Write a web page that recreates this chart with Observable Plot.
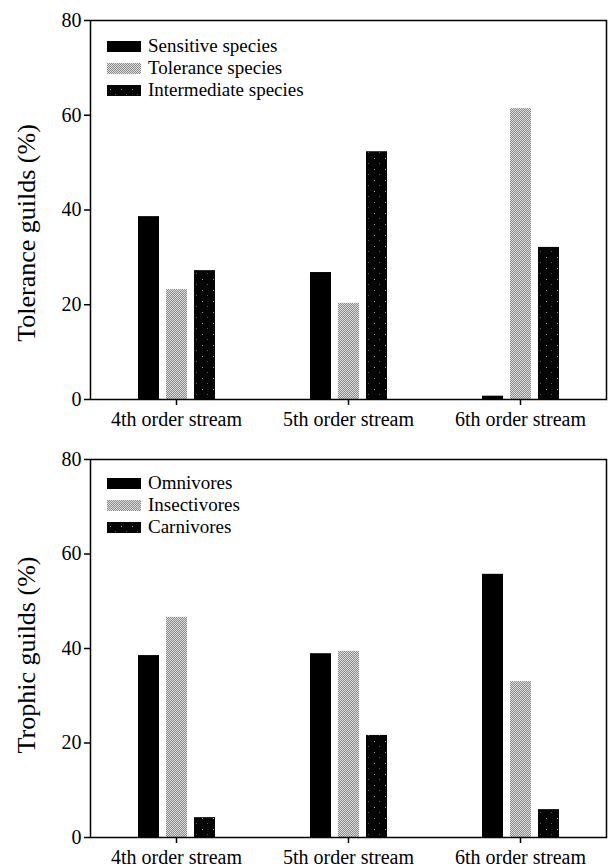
<!DOCTYPE html>
<html><head><meta charset="utf-8">
<script src="https://cdn.jsdelivr.net/npm/d3@7"></script>
<script src="https://cdn.jsdelivr.net/npm/@observablehq/plot@0.6"></script>
<style>
body{margin:0;background:#fff;}
#wrap{position:relative;width:608px;height:867px;font-family:"Liberation Serif",serif;color:#000;overflow:hidden}
#wrap > svg{display:block}
.legend{position:absolute;left:107px;font-size:19px;line-height:22px}
.legend .row{display:flex;align-items:center;height:22px;white-space:nowrap}
.legend .row svg{margin-right:7px;display:block}
.ylab{position:absolute;left:27px;width:0;height:0;}
.ylab span{position:absolute;left:0;top:0;transform:translate(-50%,-50%) rotate(-90deg);white-space:nowrap;font-size:26px}
</style></head><body>
<svg width="0" height="0" style="position:absolute"><defs>
<pattern id="patGray" width="2" height="2" patternUnits="userSpaceOnUse"><rect width="2" height="2" fill="#dedede"/><rect width="1" height="1" fill="#8a8a8a"/><rect x="1" y="1" width="1" height="1" fill="#8a8a8a"/></pattern>
<pattern id="patDark" width="11" height="11" patternUnits="userSpaceOnUse"><rect width="11" height="11" fill="#050505"/><rect x="3" y="4" width="1" height="1" fill="#9a9a9a"/><rect x="8" y="9" width="1" height="1" fill="#5a5a5a"/></pattern>
</defs></svg>
<div id="wrap"></div>
<script>
const streams = ["4th order stream", "5th order stream", "6th order stream"];
const toleranceSeries = ["Sensitive species", "Tolerance species", "Intermediate species"];
const sensitive = [38.6, 26.8, 0.7];
const tolerant = [23.2, 20.3, 61.4];
const intermediate = [27.2, 52.3, 32.1];
const trophicSeries = ["Omnivores", "Insectivores", "Carnivores"];
const omnivores = [38.5, 38.9, 55.7];
const insectivores = [46.6, 39.4, 33.0];
const carnivores = [4.2, 21.6, 5.9];
const yTicks = [0, 20, 40, 60, 80];
const fills = ["#000", "url(#patGray)", "url(#patDark)"];

const wrap = document.getElementById("wrap");

function chart(series, values, o) {
  const data = [];
  streams.forEach((s, i) => series.forEach((g, j) => data.push({stream: s, series: g, value: values[j][i]})));
  return Plot.plot({
    width: 608, height: o.height, marginTop: o.mt, marginBottom: o.mb, marginLeft: 89, marginRight: 1,
    style: {fontFamily: '"Liberation Serif", serif', fontSize: "20px", color: "#000", background: "#fff", overflow: "visible"},
    fx: {domain: streams, padding: 0, label: null},
    x: {domain: series, paddingInner: 0.26, paddingOuter: 1.66, axis: null},
    y: {domain: [0, 80], label: null},
    color: {domain: series, range: fills},
    marks: [
      Plot.barY(data, {fx: "stream", x: "series", y: "value", fill: "series"}),
      Plot.frame({facet: "super", stroke: "#000", strokeWidth: 1.5}),
      Plot.axisY({ticks: yTicks, tickSize: 6, tickPadding: 3, label: null, fontSize: 20, strokeWidth: 1.5}),
      Plot.axisFx({anchor: "bottom", tickSize: 6, tickPadding: 6, label: null, fontSize: 20, strokeWidth: 1.5})
    ]
  });
}

function legend(series, top) {
  const div = document.createElement("div");
  div.className = "legend";
  div.style.top = top + "px";
  series.forEach((s, i) => {
    const row = document.createElement("div");
    row.className = "row";
    row.innerHTML = `<svg width="34" height="11"><rect width="34" height="11" fill="${fills[i]}"/></svg><span>${s}</span>`;
    div.appendChild(row);
  });
  wrap.appendChild(div);
}

function ylab(text, cy) {
  const d = document.createElement("div");
  d.className = "ylab";
  d.style.top = cy + "px";
  d.innerHTML = `<span>${text}</span>`;
  wrap.appendChild(d);
}

wrap.appendChild(chart(toleranceSeries, [sensitive, tolerant, intermediate], {height: 440, mt: 20, mb: 41}));
wrap.appendChild(chart(trophicSeries, [omnivores, insectivores, carnivores], {height: 427, mt: 19, mb: 30}));
legend(toleranceSeries, 35);
legend(trophicSeries, 472);
ylab("Tolerance guilds (%)", 233);
ylab("Trophic guilds (%)", 655);
</script>
</body></html>
